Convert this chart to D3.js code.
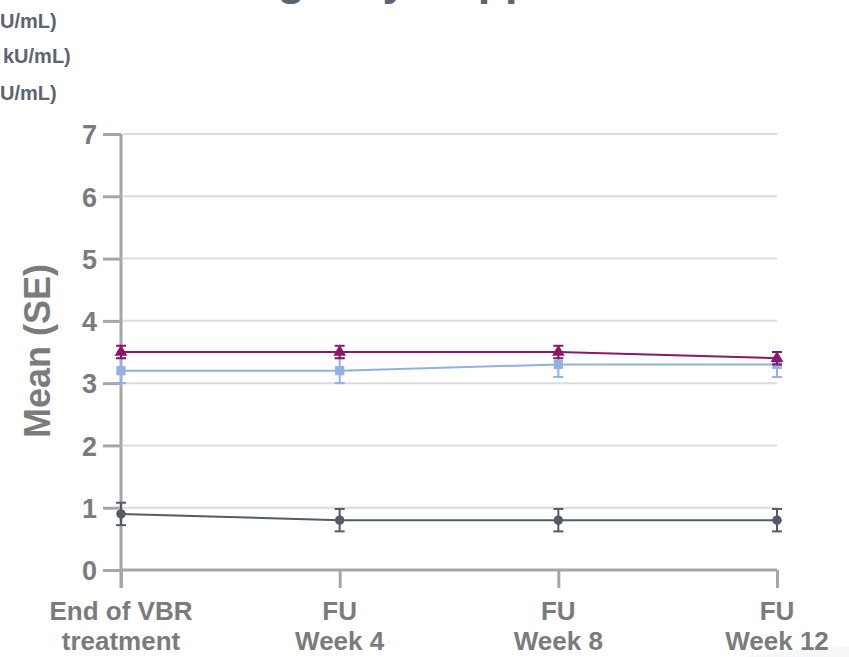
<!DOCTYPE html>
<html>
<head>
<meta charset="utf-8">
<script src="https://cdn.jsdelivr.net/npm/d3@7"></script>
<style>
  body { margin: 0; background: #fff; overflow: hidden; }
  svg { display: block; font-family: "Liberation Sans", Arial, sans-serif; font-weight: bold; }
</style>
</head>
<body>
<div class="chartDiv"></div>
<script>
// timepoints (two-line labels)
var timepoints = ["End of VBR|treatment", "FU|Week 4", "FU|Week 8", "FU|Week 12"];
var yTicks = [0, 1, 2, 3, 4, 5, 6, 7];

// series values
var greyMean = [0.9, 0.8, 0.8, 0.8];
var greySE   = [0.18, 0.18, 0.18, 0.18];
var blueMean = [3.2, 3.2, 3.3, 3.3];
var blueSE   = [0.2, 0.2, 0.2, 0.2];
var purpleMean = [3.5, 3.5, 3.5, 3.4];
var purpleSE   = [0.1, 0.1, 0.1, 0.1];

// legend labels, only their right ends are visible
var legendLabels = ["U/mL)", "kU/mL)", "U/mL)"];

var W = 849, H = 657;
var svg = d3.select('.chartDiv').append('svg')
    .attr('width', W)
    .attr('height', H);

// faint decorative arc bottom right
var defs = svg.append("defs");
var grad = defs.append("linearGradient").attr("id", "arcGrad")
    .attr("x1", "0%").attr("x2", "100%");
grad.append("stop").attr("offset", "0%").attr("stop-color", "#ffffff");
grad.append("stop").attr("offset", "100%").attr("stop-color", "#e9edf0");
svg.append("circle")
    .attr("cx", 900).attr("cy", 1652).attr("r", 1007)
    .attr("fill", "url(#arcGrad)");

// title, mostly cropped off the top
svg.append("text")
    .attr("x", 165).attr("y", -5)
    .attr("fill", "#5b6570")
    .style("font-size", "45px")
    .text("Emergency Supplementation");

var legendBase = [28, 63, 100];
svg.selectAll(".legendText")
    .data(legendLabels)
    .enter().append("text")
    .attr("class", "legendText")
    .attr("x", function(d, i) { return i == 1 ? 3 : 0; })
    .attr("y", function(d, i) { return legendBase[i]; })
    .attr("fill", "#5b6570")
    .style("font-size", "20px")
    .text(function(d) { return d; });

var x = d3.scalePoint()
    .domain(timepoints)
    .range([121, 777]);

var y = d3.scaleLinear()
    .domain([0, 7])
    .range([570, 134]);

var axisGrey = "#a6a6a6";
var labelGrey = "#7b7b7b";

// gridlines
svg.selectAll(".grid")
    .data(yTicks.filter(function(d) { return d > 0; }))
    .enter().append("line")
    .attr("class", "grid")
    .attr("x1", 123).attr("x2", 777)
    .attr("y1", function(d) { return y(d); })
    .attr("y2", function(d) { return y(d); })
    .attr("stroke", "#dcdcdc")
    .attr("stroke-width", 2);

// y axis
var yAxis = svg.append("g")
    .attr("transform", "translate(121,0)")
    .call(d3.axisLeft(y).tickValues(yTicks).tickFormat(d3.format("d"))
      .tickSize(18).tickPadding(6).tickSizeOuter(0));
yAxis.select(".domain").remove();
yAxis.append("line")
    .attr("x1", 0).attr("x2", 0)
    .attr("y1", y(7)).attr("y2", 588)
    .attr("stroke", axisGrey).attr("stroke-width", 3);
yAxis.selectAll(".tick line").attr("stroke", axisGrey).attr("stroke-width", 3);
yAxis.selectAll(".tick text")
    .attr("fill", labelGrey)
    .style("font-size", "27px")
    .style("font-family", "'Liberation Sans', Arial, sans-serif")
    .style("font-weight", "bold")
    .attr("dy", "0.36em");

// x axis
var xAxis = svg.append("g")
    .attr("transform", "translate(0," + y(0) + ")")
    .call(d3.axisBottom(x).tickSize(18).tickSizeOuter(0).tickFormat(""));
xAxis.select(".domain").attr("stroke", axisGrey).attr("stroke-width", 3)
    .attr("d", "M121,0H777");
xAxis.selectAll(".tick line").attr("stroke", axisGrey).attr("stroke-width", 3);
xAxis.selectAll(".tick text").remove();

svg.selectAll(".xLabel")
    .data(timepoints)
    .enter().append("text")
    .attr("class", "xLabel")
    .attr("x", function(d) { return x(d); })
    .attr("y", 620)
    .attr("text-anchor", "middle")
    .attr("fill", labelGrey)
    .style("font-size", "26px")
    .each(function(d) {
      var parts = d.split("|");
      d3.select(this).append("tspan").attr("x", x(d)).attr("dy", 0).text(parts[0]);
      d3.select(this).append("tspan").attr("x", x(d)).attr("dy", 30).text(parts[1]);
    });

// y label
svg.append("text")
    .attr("transform", "translate(50,351) rotate(-90)")
    .attr("text-anchor", "middle")
    .attr("fill", labelGrey)
    .style("font-size", "36px")
    .text("Mean (SE)");

// series
var series = [
  { name: "grey", mean: greyMean, se: greySE, color: "#515c67", symbol: d3.symbolCircle, size: 70 },
  { name: "blue", mean: blueMean, se: blueSE, color: "#92b1e3", symbol: d3.symbolSquare, size: 85 },
  { name: "purple", mean: purpleMean, se: purpleSE, color: "#8c1768", symbol: d3.symbolTriangle, size: 70 }
];

var line = d3.line()
    .x(function(d) { return x(d.t); })
    .y(function(d) { return y(d.v); });

series.forEach(function(s) {
  var pts = timepoints.map(function(t, i) { return { t: t, v: s.mean[i], e: s.se[i] }; });
  var g = svg.append("g").attr("class", "series-" + s.name);

  g.append("path")
      .datum(pts)
      .attr("d", line)
      .attr("fill", "none")
      .attr("stroke", s.color)
      .attr("stroke-width", 2);

  var eb = g.selectAll(".err")
      .data(pts)
      .enter().append("g")
      .attr("class", "err")
      .attr("stroke", s.color)
      .attr("stroke-width", 2);
  eb.append("line")
      .attr("x1", function(d) { return x(d.t); })
      .attr("x2", function(d) { return x(d.t); })
      .attr("y1", function(d) { return y(d.v + d.e); })
      .attr("y2", function(d) { return y(d.v - d.e); });
  eb.append("line")
      .attr("x1", function(d) { return x(d.t) - 5; })
      .attr("x2", function(d) { return x(d.t) + 5; })
      .attr("y1", function(d) { return y(d.v + d.e); })
      .attr("y2", function(d) { return y(d.v + d.e); });
  eb.append("line")
      .attr("x1", function(d) { return x(d.t) - 5; })
      .attr("x2", function(d) { return x(d.t) + 5; })
      .attr("y1", function(d) { return y(d.v - d.e); })
      .attr("y2", function(d) { return y(d.v - d.e); });

  g.selectAll(".marker")
      .data(pts)
      .enter().append("path")
      .attr("class", "marker")
      .attr("d", d3.symbol().type(s.symbol).size(s.size))
      .attr("transform", function(d) { return "translate(" + x(d.t) + "," + y(d.v) + ")"; })
      .attr("fill", s.color);
});
</script>
</body>
</html>
